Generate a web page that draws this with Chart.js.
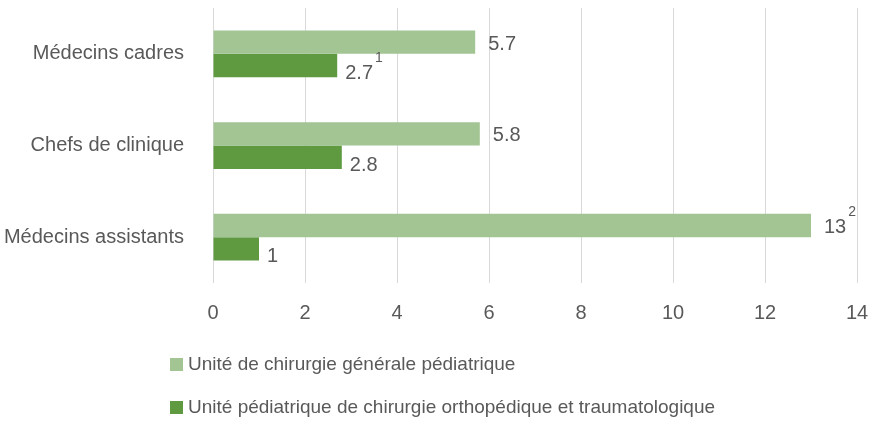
<!DOCTYPE html>
<html>
<head>
<meta charset="utf-8">
<script src="https://cdn.jsdelivr.net/npm/chart.js@4"></script>
<style>
  body { margin: 0; background: #fff; }
  #wrap { position: relative; width: 877px; height: 424px; }
  #legend { position: absolute; left: 170px; top: 351px; font-family: "Liberation Sans Narrow", "Liberation Sans", sans-serif; font-size: 19px; color: #595959; }
  .item { height: 43px; line-height: 26px; display: flex; align-items: flex-start; }
  .box { width: 13px; height: 13px; margin: 7px 5px 0 0; }
</style>
</head>
<body>
<div id="wrap">
  <canvas id="graph1" width="877" height="424"></canvas>
  <div id="legend"></div>
</div>
<script>
// donnees
const categories = ['Médecins cadres', 'Chefs de clinique', 'Médecins assistants'];
const generale = [5.7, 5.8, 13];
const orthopedie = [2.7, 2.8, 1];
const generaleNotes = ['', '', '2'];
const orthopedieNotes = ['1', '', ''];
const seriesNames = ['Unité de chirurgie générale pédiatrique', 'Unité pédiatrique de chirurgie orthopédique et traumatologique'];
const xTicks = [0, 2, 4, 6, 8, 10, 12, 14];

const colors = ['#A2C593', '#5F9A40'];
const FONT = '"Liberation Sans Narrow", "Liberation Sans", sans-serif';
const notes = [generaleNotes, orthopedieNotes];

// etiquettes de valeurs + petits exposants
const valueLabels = {
  id: 'valueLabels',
  afterDatasetsDraw(chart) {
    const ctx = chart.ctx;
    ctx.save();
    ctx.fillStyle = '#595959';
    ctx.textBaseline = 'middle';
    ctx.textAlign = 'left';
    chart.data.datasets.forEach((ds, i) => {
      const meta = chart.getDatasetMeta(i);
      meta.data.forEach((bar, j) => {
        const txt = String(ds.data[j]);
        const x = bar.x + (i === 0 ? 13 : 8);
        const y = bar.y + (i === 0 ? 2 : 8);
        ctx.font = '20px ' + FONT;
        ctx.fillText(txt, x, y);
        const w = ctx.measureText(txt).width;
        if (notes[i][j]) {
          ctx.font = '14px ' + FONT;
          ctx.fillText(notes[i][j], x + w + 2, y - 15);
        }
      });
    });
    ctx.restore();
  }
};

const chart = new Chart(document.getElementById('graph1'), {
  type: 'bar',
  data: {
    labels: categories,
    datasets: [
      { label: seriesNames[0], data: generale, backgroundColor: colors[0], categoryPercentage: 0.51, barPercentage: 1 },
      { label: seriesNames[1], data: orthopedie, backgroundColor: colors[1], categoryPercentage: 0.51, barPercentage: 1 }
    ]
  },
  options: {
    indexAxis: 'y',
    responsive: false,
    animation: false,
    layout: { padding: { top: 8, right: 20, left: 0, bottom: 0 } },
    plugins: { legend: { display: false }, tooltip: { enabled: false } },
    scales: {
      x: {
        min: 0, max: 14,
        afterBuildTicks: s => { s.ticks = xTicks.map(v => ({ value: v })); },
        afterFit: s => { s.height = 141; s.paddingLeft = 0; s.paddingRight = 0; },
        grid: { color: '#D9D9D9', drawTicks: false },
        border: { display: false },
        ticks: { color: '#595959', padding: 18, font: { family: FONT, size: 20 } }
      },
      y: {
        afterFit: s => { s.width = 213; s.paddingTop = 0; s.paddingBottom = 0; },
        grid: { display: false },
        border: { display: false },
        ticks: { color: '#595959', padding: 21, font: { family: FONT, size: 20 } }
      }
    }
  },
  plugins: [valueLabels]
});

// legende en html, un element par ligne
const legend = document.getElementById('legend');
seriesNames.forEach((name, i) => {
  const row = document.createElement('div');
  row.className = 'item';
  row.innerHTML = '<span class="box" style="background:' + colors[i] + '"></span><span>' + name + '</span>';
  legend.appendChild(row);
});
</script>
</body>
</html>
